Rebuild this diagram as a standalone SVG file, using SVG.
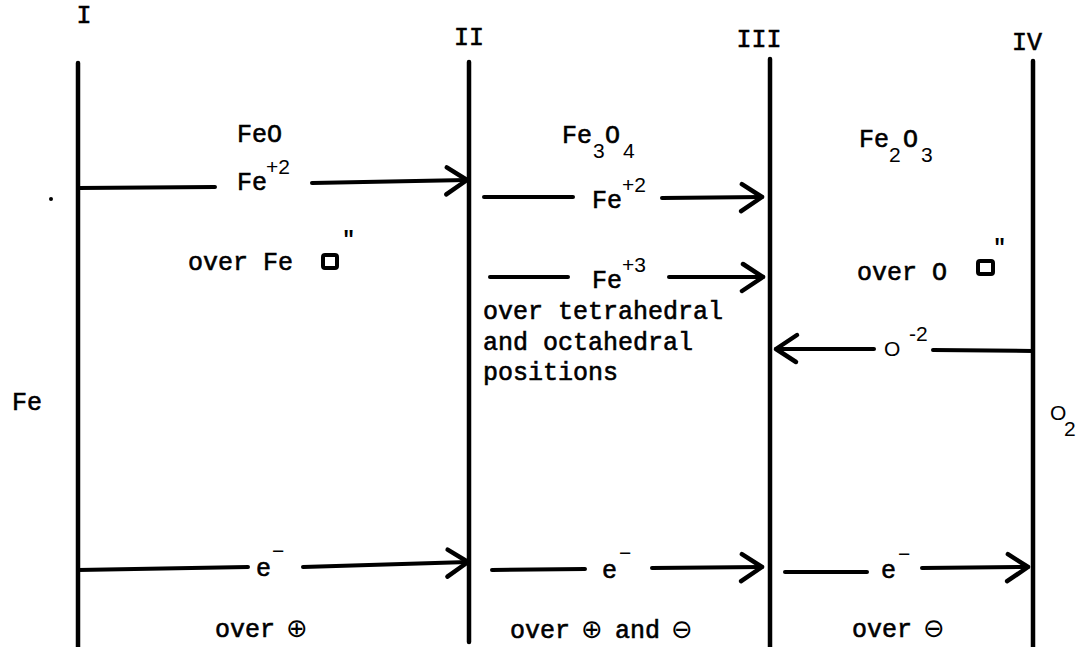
<svg xmlns="http://www.w3.org/2000/svg" width="1081" height="647" viewBox="0 0 1081 647">
<style>
  .t{font-family:"Liberation Mono","DejaVu Sans Mono",monospace;font-size:25px;fill:#000;stroke:#000;stroke-width:0.6}
  .s{font-family:"Liberation Sans","DejaVu Sans",sans-serif;font-size:21px;fill:#000}
  .q{font-family:"Liberation Mono","DejaVu Sans Mono",monospace;font-size:22px;font-weight:bold;fill:#000}
  .g{font-family:"DejaVu Sans","Liberation Sans",sans-serif;font-size:26px;fill:#000}
  .v{stroke:#000;stroke-width:4.5;stroke-linecap:round;fill:none}
  .c{stroke:#000;stroke-width:4;stroke-linecap:round;fill:none}
  .a{stroke:#000;stroke-width:4;stroke-linecap:round;fill:none;marker-end:url(#ah)}
</style>
<defs>
  <marker id="ah" markerUnits="userSpaceOnUse" markerWidth="40" markerHeight="40" viewBox="-30 -20 40 40" refX="0" refY="0" orient="auto">
    <path d="M-20,-13 L0,0 L-21,14" fill="none" stroke="#000" stroke-width="4.5" stroke-linecap="round" stroke-linejoin="round"/>
  </marker>
</defs>
<rect width="1081" height="647" fill="#fff"/>

<g id="interface-I">
  <line class="v" x1="78" y1="63" x2="78" y2="650"/>
  <text class="t" x="84" y="23" text-anchor="middle">I</text>
</g>
<g id="interface-II">
  <line class="v" x1="469" y1="62" x2="469" y2="642"/>
  <text class="t" x="469" y="45" text-anchor="middle">II</text>
</g>
<g id="interface-III">
  <line class="v" x1="770" y1="59" x2="770" y2="650"/>
  <text class="t" x="759" y="47" text-anchor="middle">III</text>
</g>
<g id="interface-IV">
  <line class="v" x1="1033" y1="61" x2="1033" y2="650"/>
  <text class="t" x="1027" y="50" text-anchor="middle">IV</text>
</g>

<g id="side-Fe">
  <text class="t" x="12" y="410">Fe</text>
  <circle cx="51" cy="199" r="2" fill="#000"/>
</g>
<g id="side-O2">
  <text class="s" x="1050" y="420">O</text>
  <text class="s" x="1064" y="436">2</text>
</g>

<g id="phase-FeO">
  <text class="t" x="237" y="142">FeO</text>
  <text class="t" x="188" y="270">over Fe</text>
  <rect x="323" y="255" width="14" height="13" rx="2" fill="none" stroke="#000" stroke-width="4"/>
  <text class="q" x="342" y="246">"</text>
  <text class="t" x="215" y="637">over</text>
  <text class="g" x="297" y="637" text-anchor="middle">⊕</text>
</g>
<g id="phase-Fe3O4">
  <text class="t" x="562" y="143">Fe</text>
  <text class="s" x="593" y="158">3</text>
  <text class="t" x="605" y="143">O</text>
  <text class="s" x="623" y="158">4</text>
  <text class="t" x="483" y="319">over tetrahedral</text>
  <text class="t" x="483" y="350">and octahedral</text>
  <text class="t" x="483" y="380">positions</text>
  <text class="t" x="510" y="638">over</text>
  <text class="g" x="592" y="638" text-anchor="middle">⊕</text>
  <text class="t" x="615" y="638">and</text>
  <text class="g" x="682" y="638" text-anchor="middle">⊖</text>
</g>
<g id="phase-Fe2O3">
  <text class="t" x="859" y="147">Fe</text>
  <text class="s" x="889" y="162">2</text>
  <text class="t" x="903" y="147">O</text>
  <text class="s" x="921" y="162">3</text>
  <text class="t" x="857" y="280">over O</text>
  <rect x="978" y="261" width="15" height="13" rx="2" fill="none" stroke="#000" stroke-width="4"/>
  <text class="q" x="993" y="254">"</text>
  <text class="t" x="852" y="637">over</text>
  <text class="g" x="934" y="637" text-anchor="middle">⊖</text>
</g>

<g id="connectors">
  <line class="c" x1="78" y1="188" x2="215" y2="187"/>
  <line class="a" x1="312" y1="183" x2="467" y2="180"/>
  <line class="c" x1="484" y1="197" x2="573" y2="197"/>
  <line class="a" x1="662" y1="198" x2="762" y2="197"/>
  <line class="c" x1="490" y1="277" x2="568" y2="277"/>
  <line class="a" x1="669" y1="277" x2="763" y2="277"/>
  <line class="c" x1="1033" y1="351" x2="933" y2="350"/>
  <line class="a" x1="874" y1="349" x2="776" y2="349"/>
  <line class="c" x1="78" y1="570" x2="248" y2="567"/>
  <line class="a" x1="303" y1="567" x2="468" y2="562"/>
  <line class="c" x1="492" y1="570" x2="585" y2="569"/>
  <line class="a" x1="652" y1="568" x2="762" y2="567"/>
  <line class="c" x1="785" y1="572" x2="867" y2="572"/>
  <line class="a" x1="922" y1="568" x2="1028" y2="567"/>
</g>

<g id="connector-labels">
  <text class="t" x="237" y="190">Fe</text><text class="s" x="266" y="174">+2</text>
  <text class="t" x="592" y="208">Fe</text><text class="s" x="622" y="192">+2</text>
  <text class="t" x="592" y="288">Fe</text><text class="s" x="622" y="272">+3</text>
  <text class="s" x="884" y="356">O</text><text class="s" x="909" y="341">-2</text>
  <text class="t" x="256" y="576">e</text><text class="s" x="272" y="558">−</text>
  <text class="t" x="602" y="578">e</text><text class="s" x="619" y="560">−</text>
  <text class="t" x="881" y="578">e</text><text class="s" x="898" y="561">−</text>
</g>
</svg>
